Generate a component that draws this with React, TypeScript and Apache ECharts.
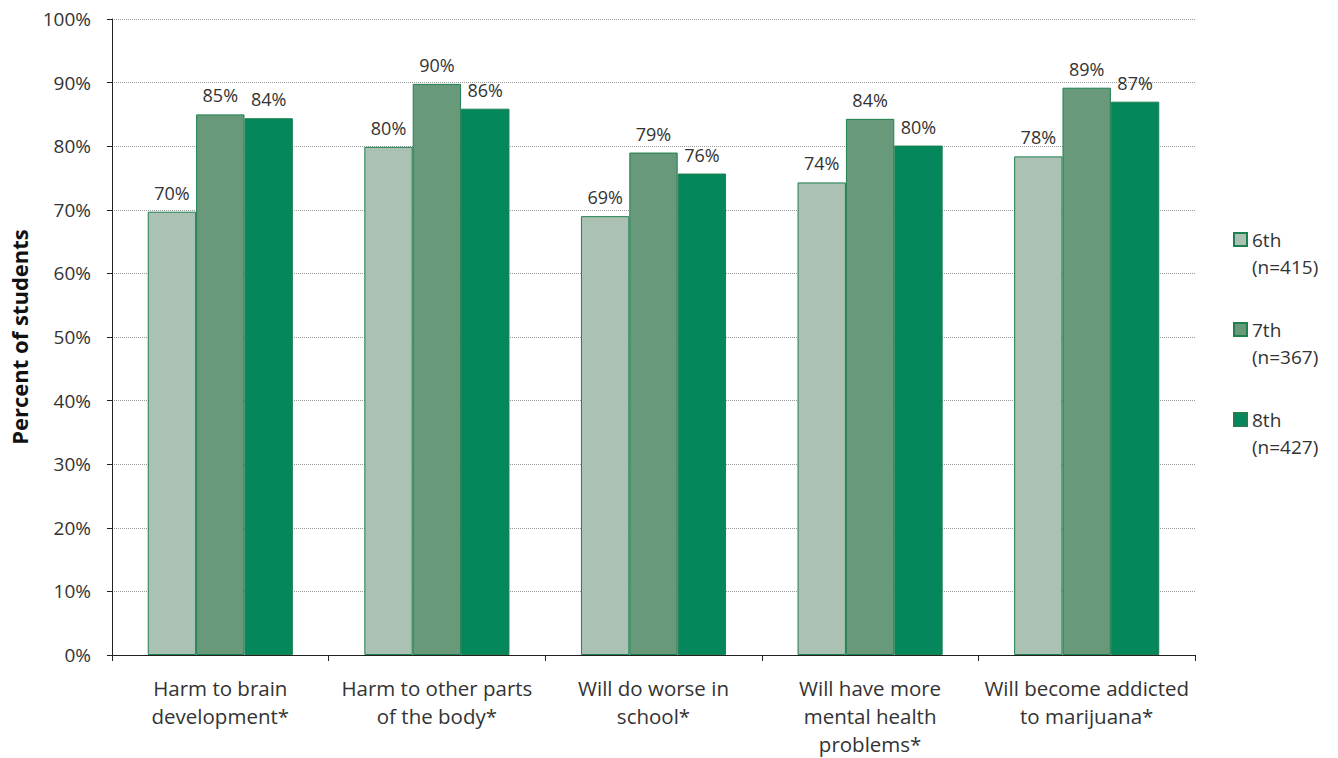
import React, { useEffect, useRef } from "react";
import * as echarts from "echarts";

const categories = [
  "Harm to brain\ndevelopment*",
  "Harm to other parts\nof the body*",
  "Will do worse in\nschool*",
  "Will have more\nmental health\nproblems*",
  "Will become addicted\nto marijuana*",
];
const seriesNames = ["6th\n(n=415)", "7th\n(n=367)", "8th\n(n=427)"];
const sixth = [69.7, 79.9, 69.0, 74.3, 78.4];
const seventh = [85.0, 89.8, 79.0, 84.3, 89.2];
const eighth = [84.4, 85.9, 75.7, 80.1, 87.0];
const colors = ["#ABC1B4", "#67997A", "#04875A"];
const FONT = "Open Sans";

export default function App() {
  const ref = useRef<HTMLDivElement>(null);
  useEffect(() => {
    if (!ref.current) return;
    const chart = echarts.init(ref.current, null, { renderer: "svg" });
    const values = [sixth, seventh, eighth];
    chart.setOption({
      animation: false,
      textStyle: { fontFamily: FONT },
      grid: { left: 112, right: 143, top: 19, bottom: 101, containLabel: false },
      legend: {
        orient: "vertical",
        left: 1233,
        top: 199,
        padding: 0,
        icon: "rect",
        itemWidth: 13,
        itemHeight: 13,
        itemGap: 9,
        data: seriesNames.map((n) => ({ name: n })),
        formatter: (n: string) => "\n" + n,
        textStyle: { fontFamily: FONT, fontSize: 19, color: "#333", lineHeight: 27 },
      },
      xAxis: {
        type: "category",
        data: categories,
        axisLine: { lineStyle: { color: "#222", width: 1 } },
        axisTick: { show: true, length: 6, lineStyle: { color: "#222" } },
        axisLabel: {
          interval: 0,
          margin: 19,
          fontFamily: FONT,
          fontSize: 20.5,
          color: "#333",
          lineHeight: 28,
        },
      },
      yAxis: {
        type: "value",
        min: 0,
        max: 100,
        interval: 10,
        name: "Percent of students",
        nameLocation: "middle",
        nameGap: 82,
        nameTextStyle: { fontFamily: FONT, fontSize: 22, fontWeight: "bold", color: "#111" },
        axisLine: { show: true, lineStyle: { color: "#222" } },
        axisTick: { show: true, length: 5, lineStyle: { color: "#222" } },
        axisLabel: {
          margin: 21,
          fontFamily: FONT,
          fontSize: 19,
          color: "#333",
          formatter: (v: number) => v + "%",
        },
        splitLine: { show: true, lineStyle: { color: "#9a9a9a", type: [1, 1], width: 1 } },
      },
      series: values.map((d, i) => ({
        name: seriesNames[i],
        type: "bar",
        data: d,
        barGap: "0%",
        barCategoryGap: "33%",
        itemStyle: { color: colors[i], borderColor: "#1E7F4F", borderWidth: 1 },
        label: {
          show: true,
          position: "top",
          distance: 10,
          fontFamily: FONT,
          fontSize: 18,
          color: "#333",
          formatter: (p: any) => Math.round(p.value) + "%",
        },
      })),
    });
    return () => chart.dispose();
  }, []);
  return (
    <div
      ref={ref}
      style={{ position: "fixed", left: 0, top: 0, width: 1338, height: 758, background: "#fff" }}
    />
  );
}
